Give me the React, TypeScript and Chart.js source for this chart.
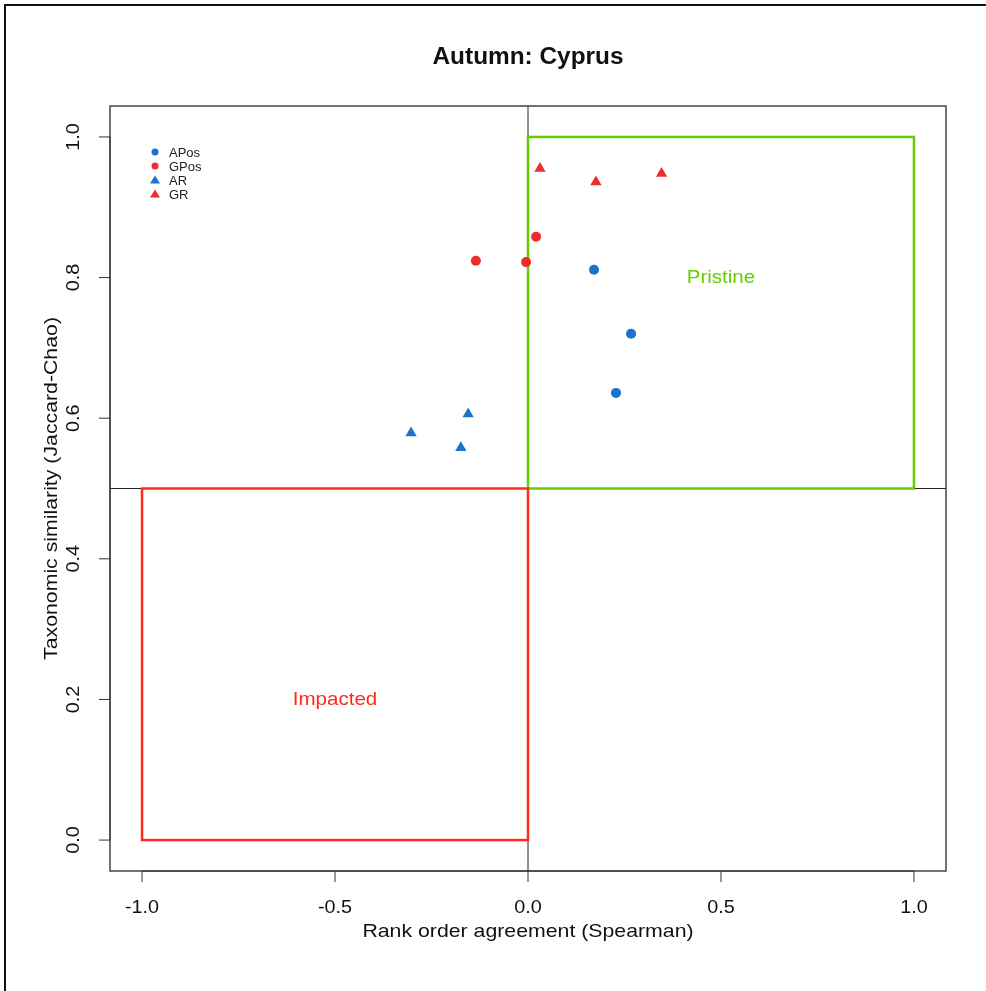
import React, { useEffect, useRef } from "react";
import { Chart, registerables } from "chart.js";

Chart.register(...registerables);

// Spearman rank agreement (x) vs Jaccard-Chao similarity (y)
const aposX = [0.171, 0.267, 0.228];
const aposY = [0.811, 0.72, 0.636];
const gposX = [0.021, -0.135, -0.005];
const gposY = [0.858, 0.824, 0.822];
const arX = [-0.155, -0.303, -0.174];
const arY = [0.606, 0.579, 0.558];
const grX = [0.031, 0.176, 0.346];
const grY = [0.955, 0.936, 0.948];

const xTicks = [-1.0, -0.5, 0.0, 0.5, 1.0];
const yTicks = [0.0, 0.2, 0.4, 0.6, 0.8, 1.0];

const BLUE = "#1874CD";
const RED = "#EE2C2C";
const GREEN = "#66CD00";
const RECT_RED = "#FF2A1A";
const FONT = "'Liberation Sans', Arial, sans-serif";

const toPts = (xs: number[], ys: number[]) => xs.map((x, i) => ({ x, y: ys[i] }));

const series = [
  { label: "APos", data: toPts(aposX, aposY), color: BLUE, style: "circle", r: 5 },
  { label: "GPos", data: toPts(gposX, gposY), color: RED, style: "circle", r: 5 },
  { label: "AR", data: toPts(arX, arY), color: BLUE, style: "triangle", r: 6.5 },
  { label: "GR", data: toPts(grX, grY), color: RED, style: "triangle", r: 6.5 },
];

// centred text with optional horizontal stretch and rotation
function label(
  ctx: CanvasRenderingContext2D,
  text: string,
  x: number,
  y: number,
  size: number,
  color: string,
  opts: { bold?: boolean; sx?: number; rot?: number } = {}
) {
  ctx.save();
  ctx.translate(x, y);
  if (opts.rot) ctx.rotate(opts.rot);
  ctx.scale(opts.sx ?? 1, 1);
  ctx.font = `${opts.bold ? "bold " : ""}${size}px ${FONT}`;
  ctx.fillStyle = color;
  ctx.textAlign = "center";
  ctx.textBaseline = "middle";
  ctx.fillText(text, 0, 0);
  ctx.restore();
}

const framePlugin = {
  id: "rframe",
  beforeDatasetsDraw(chart: any) {
    const { ctx, chartArea: a, scales } = chart;
    const xs = scales.x;
    const ys = scales.y;
    const px = (v: number) => xs.getPixelForValue(v);
    const py = (v: number) => ys.getPixelForValue(v);
    ctx.save();

    // figure border
    ctx.strokeStyle = "#111";
    ctx.lineWidth = 2;
    ctx.strokeRect(5, 5, 1100, 1100);

    // reference lines
    ctx.strokeStyle = "#222";
    ctx.lineWidth = 1;
    ctx.beginPath();
    ctx.moveTo(px(0), a.top);
    ctx.lineTo(px(0), a.bottom);
    ctx.moveTo(a.left, py(0.5));
    ctx.lineTo(a.right, py(0.5));
    ctx.stroke();

    // quadrant rectangles
    ctx.lineWidth = 2.5;
    ctx.strokeStyle = GREEN;
    ctx.strokeRect(px(0), py(1), px(1) - px(0), py(0.5) - py(1));
    ctx.strokeStyle = RECT_RED;
    ctx.strokeRect(px(-1), py(0.5), px(0) - px(-1), py(0) - py(0.5));

    // quadrant labels
    label(ctx, "Pristine", px(0.5), py(0.8), 19, GREEN, { sx: 1.08 });
    label(ctx, "Impacted", px(-0.5), py(0.2), 19, RECT_RED, { sx: 1.08 });

    // plot box
    ctx.strokeStyle = "#444";
    ctx.lineWidth = 1.5;
    ctx.strokeRect(a.left, a.top, a.right - a.left, a.bottom - a.top);

    // axes with ticks
    ctx.strokeStyle = "#333";
    ctx.lineWidth = 1;
    ctx.beginPath();
    ctx.moveTo(px(xTicks[0]), a.bottom);
    ctx.lineTo(px(xTicks[xTicks.length - 1]), a.bottom);
    xTicks.forEach((t) => {
      ctx.moveTo(px(t), a.bottom);
      ctx.lineTo(px(t), a.bottom + 11);
    });
    ctx.moveTo(a.left, py(yTicks[0]));
    ctx.lineTo(a.left, py(yTicks[yTicks.length - 1]));
    yTicks.forEach((t) => {
      ctx.moveTo(a.left, py(t));
      ctx.lineTo(a.left - 11, py(t));
    });
    ctx.stroke();

    xTicks.forEach((t) =>
      label(ctx, t.toFixed(1), px(t), a.bottom + 37, 18, "#111", { sx: 1.1 })
    );
    label(ctx, "Rank order agreement (Spearman)", (a.left + a.right) / 2, a.bottom + 61, 19, "#111", { sx: 1.12 });
    yTicks.forEach((t) =>
      label(ctx, t.toFixed(1), a.left - 36, py(t), 18, "#111", { sx: 1.1, rot: -Math.PI / 2 })
    );
    label(ctx, "Taxonomic similarity (Jaccard-Chao)", a.left - 58, (a.top + a.bottom) / 2, 19, "#111", {
      sx: 1.12,
      rot: -Math.PI / 2,
    });

    // title
    label(ctx, "Autumn: Cyprus", (a.left + a.right) / 2, 58, 23, "#111", { bold: true, sx: 1.06 });

    // legend
    ctx.font = `13px ${FONT}`;
    ctx.textAlign = "left";
    ctx.textBaseline = "middle";
    series.forEach((s, i) => {
      const y = 152 + i * 14;
      const x = 155;
      ctx.fillStyle = s.color;
      ctx.beginPath();
      if (s.style === "circle") {
        ctx.arc(x, y, 3.5, 0, Math.PI * 2);
      } else {
        ctx.moveTo(x, y - 4.5);
        ctx.lineTo(x + 5, y + 3.5);
        ctx.lineTo(x - 5, y + 3.5);
        ctx.closePath();
      }
      ctx.fill();
      ctx.fillStyle = "#222";
      ctx.fillText(s.label, x + 14, y + 1);
    });

    ctx.restore();
  },
};

export default function App() {
  const ref = useRef<HTMLCanvasElement>(null);
  useEffect(() => {
    document.body.style.margin = "0";
    const chart = new Chart(ref.current!, {
      type: "scatter",
      data: {
        datasets: series.map((s) => ({
          label: s.label,
          data: s.data,
          pointStyle: s.style as any,
          pointRadius: s.r,
          backgroundColor: s.color,
          borderColor: s.color,
          borderWidth: 0,
        })),
      },
      options: {
        animation: false,
        responsive: false,
        layout: { padding: { left: 110, right: 40, top: 106, bottom: 120 } },
        plugins: { legend: { display: false }, tooltip: { enabled: false } },
        scales: {
          x: { type: "linear", min: -1.083, max: 1.083, display: false },
          y: { type: "linear", min: -0.044, max: 1.044, display: false },
        },
      },
      plugins: [framePlugin],
    });
    return () => chart.destroy();
  }, []);
  return <canvas ref={ref} width={986} height={991} style={{ display: "block" }} />;
}
